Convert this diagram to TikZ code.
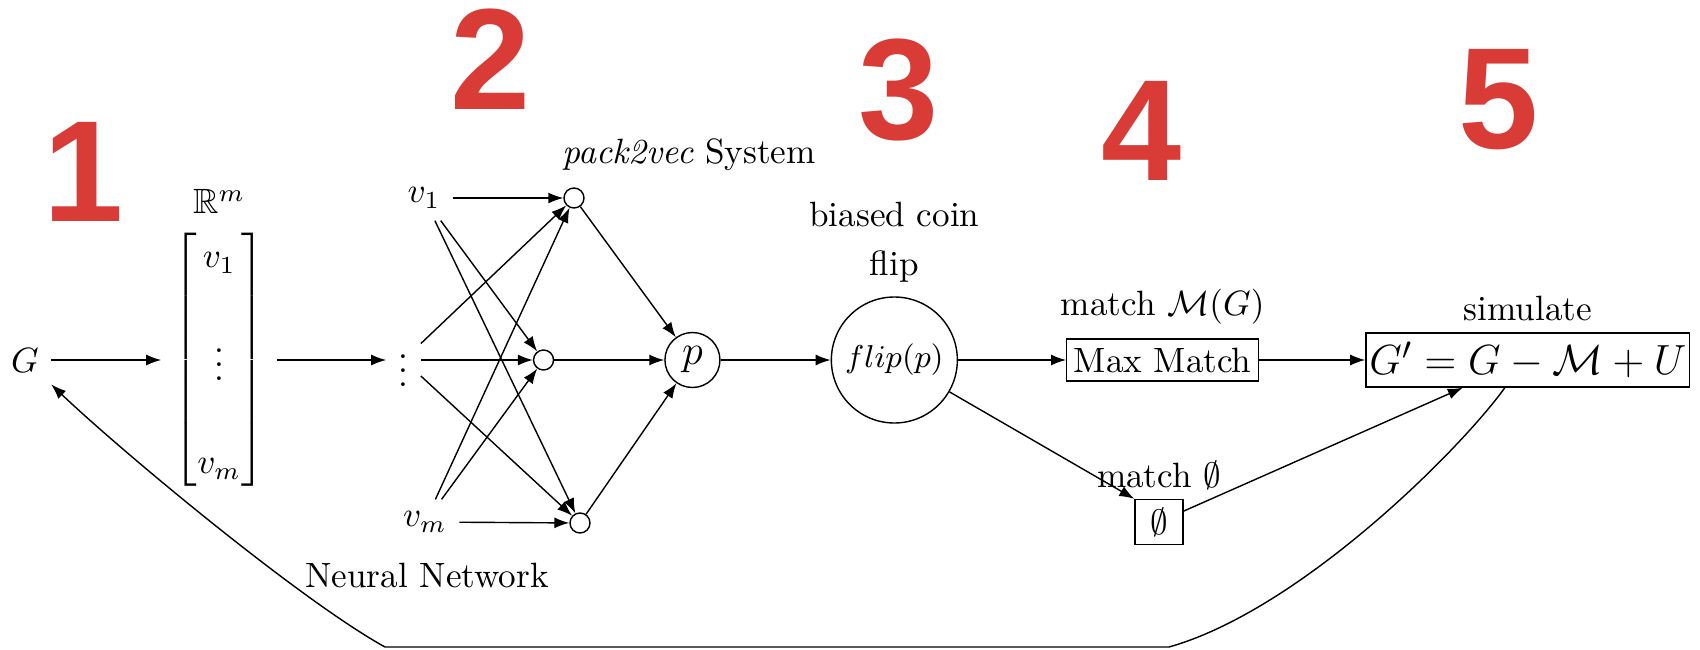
\documentclass[tikz,border=0pt]{standalone}
\usepackage{amsmath,amssymb}
\usepackage{fontspec}
\newfontfamily\stepfont{Liberation Sans}
\usetikzlibrary{arrows.meta,positioning}
\definecolor{stepRed}{RGB}{217,59,54}
\tikzset{
  flow/.style={-{Latex[length=1.5mm,width=1.1mm]}},
  neuron/.style={circle, draw, minimum size=0.2cm, inner sep=0pt},
  outnode/.style={circle, draw, minimum size=0.55cm, inner sep=0pt},
  coinnode/.style={circle, draw, minimum size=1.26cm, inner sep=0pt},
  matchbox/.style={draw, inner xsep=2pt, inner ysep=1.5pt, minimum height=0.42cm},
  note/.style={inner sep=2pt},
  stepnum/.style={text=stepRed, font=\stepfont\bfseries\fontsize{41}{44}\selectfont, inner sep=0pt, anchor=base}
}

\begin{document}
\begin{tikzpicture}
  \useasboundingbox (-0.25,-2.89) rectangle (16.75,3.60);
  % graph and edge vectors
  \node (G) at (0,0) {$G$};
  \node[right=1.10cm of G, inner xsep=0.12cm, inner ysep=0pt] (vec) {$\begin{bmatrix} \rule{0pt}{11.6pt}v_1\\[13.3pt] \vdots\\[14.7pt] v_m\rule[-5.4pt]{0pt}{5.4pt} \end{bmatrix}$};
  \node[above=0pt of vec] (rm) {$\mathbb{R}^m$};
  % neural network
  \node[right=1.09cm of vec] (in) {$\vdots$};
  \node at (3.99,1.62) (v1) {$v_1$};
  \node at (4.00,-1.62) (vm) {$v_m$};
  \node[neuron, right=1.12cm of in] (h2) {};
  \node[neuron] at (5.49,1.62) (h1) {};
  \node[neuron] at (5.55,-1.63) (h3) {};
  \node[outnode, right=1.10cm of h2, font=\large] (p) {$p$};
  \node[note] at (6.64,2.05) (sys) {\textit{pack2vec} System};
  \node[note] at (4.02,-2.15) (nn) {Neural Network};
  % coin flip and matching
  \node[coinnode, right=1.10cm of p, font=\small] (flip) {$flip(p)$};
  \node[note, above=0.06cm of flip, align=center] (coin) {biased coin\\[2pt]flip};
  \node[matchbox, right=1.08cm of flip] (mm) {Max Match};
  \node[note, above=0.06cm of mm] (mmlbl) {match $\mathcal{M}(G)$};
  \node[matchbox, minimum width=0.48cm, minimum height=0.45cm, inner sep=0pt] at (11.34,-1.62) (empty) {$\emptyset$};
  \node[note, above=0.02cm of empty] (emlbl) {match $\emptyset$};
  % simulation
  \node[matchbox, right=1.06cm of mm, inner xsep=1pt, minimum height=0.54cm, font=\fontsize{12.4}{14}\selectfont] (sim) {$G' = G - \mathcal{M} + U$};
  \node[note, above=0.04cm of sim] (simlbl) {simulate};
  \coordinate (br) at (11.44,-2.87);
  \coordinate (bl) at (3.60,-2.87);
  % step numbers
  \node[stepnum] at (0.59,1.38) (s1) {1};
  \node[stepnum] at (4.66,2.50) (s2) {2};
  \node[stepnum] at (8.74,2.20) (s3) {3};
  \node[stepnum] at (11.17,1.79) (s4) {4};
  \node[stepnum] at (14.74,2.12) (s5) {5};

  \draw[flow] (G) -- (vec);
  \draw[flow] (vec) -- (in);
  \draw[flow] (v1) -- (h1);
  \draw[flow] (v1) -- (h2);
  \draw[flow] (v1) -- (h3);
  \draw[flow] (in) -- (h1);
  \draw[flow] (in) -- (h2);
  \draw[flow] (in) -- (h3);
  \draw[flow] (vm) -- (h1);
  \draw[flow] (vm) -- (h2);
  \draw[flow] (vm) -- (h3);
  \draw[flow] (h1) -- (p);
  \draw[flow] (h2) -- (p);
  \draw[flow] (h3) -- (p);
  \draw[flow] (p) -- (flip);
  \draw[flow] (flip) -- (mm);
  \draw[flow] (flip) -- (empty.north west);
  \draw[flow] (mm) -- (sim);
  \draw[flow] (empty) -- ([xshift=-0.65cm]sim.south);
  \draw[flow] ([xshift=-0.23cm]sim.south) .. controls (14.35,-0.90) and (12.75,-2.50) .. (br) -- (bl) .. controls (2.75,-2.40) and (0.95,-0.90) .. (G.south east);
\end{tikzpicture}
\end{document}
